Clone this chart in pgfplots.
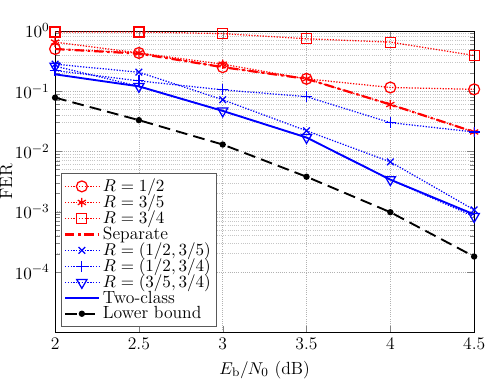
\documentclass[border=0pt]{standalone}
\usepackage{pgfplots}
\pgfplotsset{compat=1.18}
\begin{document}
\begin{tikzpicture}[font=\fontsize{11.3}{13.6}\selectfont]
\begin{semilogyaxis}[
    scale only axis,
    width=268.8pt, height=193.3pt,
    xmin=2, xmax=4.5, ymin=1e-5, ymax=1,
    xtick={2,2.5,...,4.5},
    xticklabels={2,2.5,3,3.5,4,4.5},
    ytick={1e-4,1e-3,1e-2,1e-1,1},
    tick align=inside,
    tick label style={font=\fontsize{11.3}{13.6}\selectfont},
    label style={font=\fontsize{11.3}{13.6}\selectfont},
    grid=both,
    major grid style={densely dotted, gray!60},
    minor grid style={densely dotted, gray!45},
    minor x tick num=0,
    xlabel={$E_\mathrm{b}/N_0$ (dB)},
    ylabel={FER},
    ylabel style={inner sep=0pt, yshift=-2pt},
    xlabel style={inner sep=0pt, yshift=-3.5pt},
    legend cell align=left,
    legend style={at={(0.014,0.017)}, anchor=south west, draw=gray!70!black, line width=0.8pt,
        font=\fontsize{11.3}{13.6}\selectfont, row sep=-3.4pt, inner sep=1.5pt},
    legend image code/.code={\draw[mark repeat=2,mark phase=2] plot coordinates {(0cm,0cm) (0.38cm,0cm) (0.76cm,0cm)};},
]
\addplot[red, densely dotted, thick, mark=o, mark size=3.5pt, mark options={solid}] coordinates {
(2,0.50) (2.5,0.43) (3,0.25) (3.5,0.16) (4,0.115) (4.5,0.107)};
\addlegendentry{$R=1/2$}
\addplot[red, densely dotted, thick, mark=asterisk, mark size=3pt, mark options={solid}] coordinates {
(2,0.65) (2.5,0.43) (3,0.28) (3.5,0.16) (4,0.06) (4.5,0.021)};
\addlegendentry{$R=3/5$}
\addplot[red, densely dotted, thick, mark=square, mark size=3.2pt, mark options={solid}] coordinates {
(2,0.96) (2.5,0.96) (3,0.90) (3.5,0.74) (4,0.65) (4.5,0.39)};
\addlegendentry{$R=3/4$}
\addplot[red, dash pattern=on 6pt off 2.5pt on 1.5pt off 2.5pt, line width=1.4pt] coordinates {
(2,0.50) (2.5,0.42) (3,0.25) (3.5,0.16) (4,0.06) (4.5,0.021)};
\addlegendentry{Separate}
\addplot[blue, densely dotted, thick, mark=x, mark size=3pt, mark options={solid}] coordinates {
(2,0.28) (2.5,0.206) (3,0.072) (3.5,0.022) (4,0.0067) (4.5,0.00107)};
\addlegendentry{$R=(1/2,3/5)$}
\addplot[blue, densely dotted, thick, mark=+, mark size=3.5pt, mark options={solid}] coordinates {
(2,0.22) (2.5,0.148) (3,0.105) (3.5,0.081) (4,0.030) (4.5,0.021)};
\addlegendentry{$R=(1/2,3/4)$}
\addplot[blue, densely dotted, thick, mark=triangle, mark size=3.8pt, mark options={solid, rotate=180}] coordinates {
(2,0.26) (2.5,0.12) (3,0.047) (3.5,0.017) (4,0.0034) (4.5,0.00083)};
\addlegendentry{$R=(3/5,3/4)$}
\addplot[blue, line width=1.2pt] coordinates {
(2,0.19) (2.5,0.12) (3,0.047) (3.5,0.017) (4,0.0034) (4.5,0.0009)};
\addlegendentry{Two-class}
\addplot[black, line width=1.2pt, dash pattern=on 7.5pt off 4pt, mark=*, mark size=1.4pt, mark options={solid}] coordinates {
(2,0.078) (2.5,0.033) (3,0.013) (3.5,0.0038) (4,0.00098) (4.5,0.00018)};
\addlegendentry{Lower bound}
\end{semilogyaxis}
\path (current axis.south west) ++(-34.6pt,-26.9pt) rectangle ++(318.7pt,240pt);
\end{tikzpicture}
\end{document}
